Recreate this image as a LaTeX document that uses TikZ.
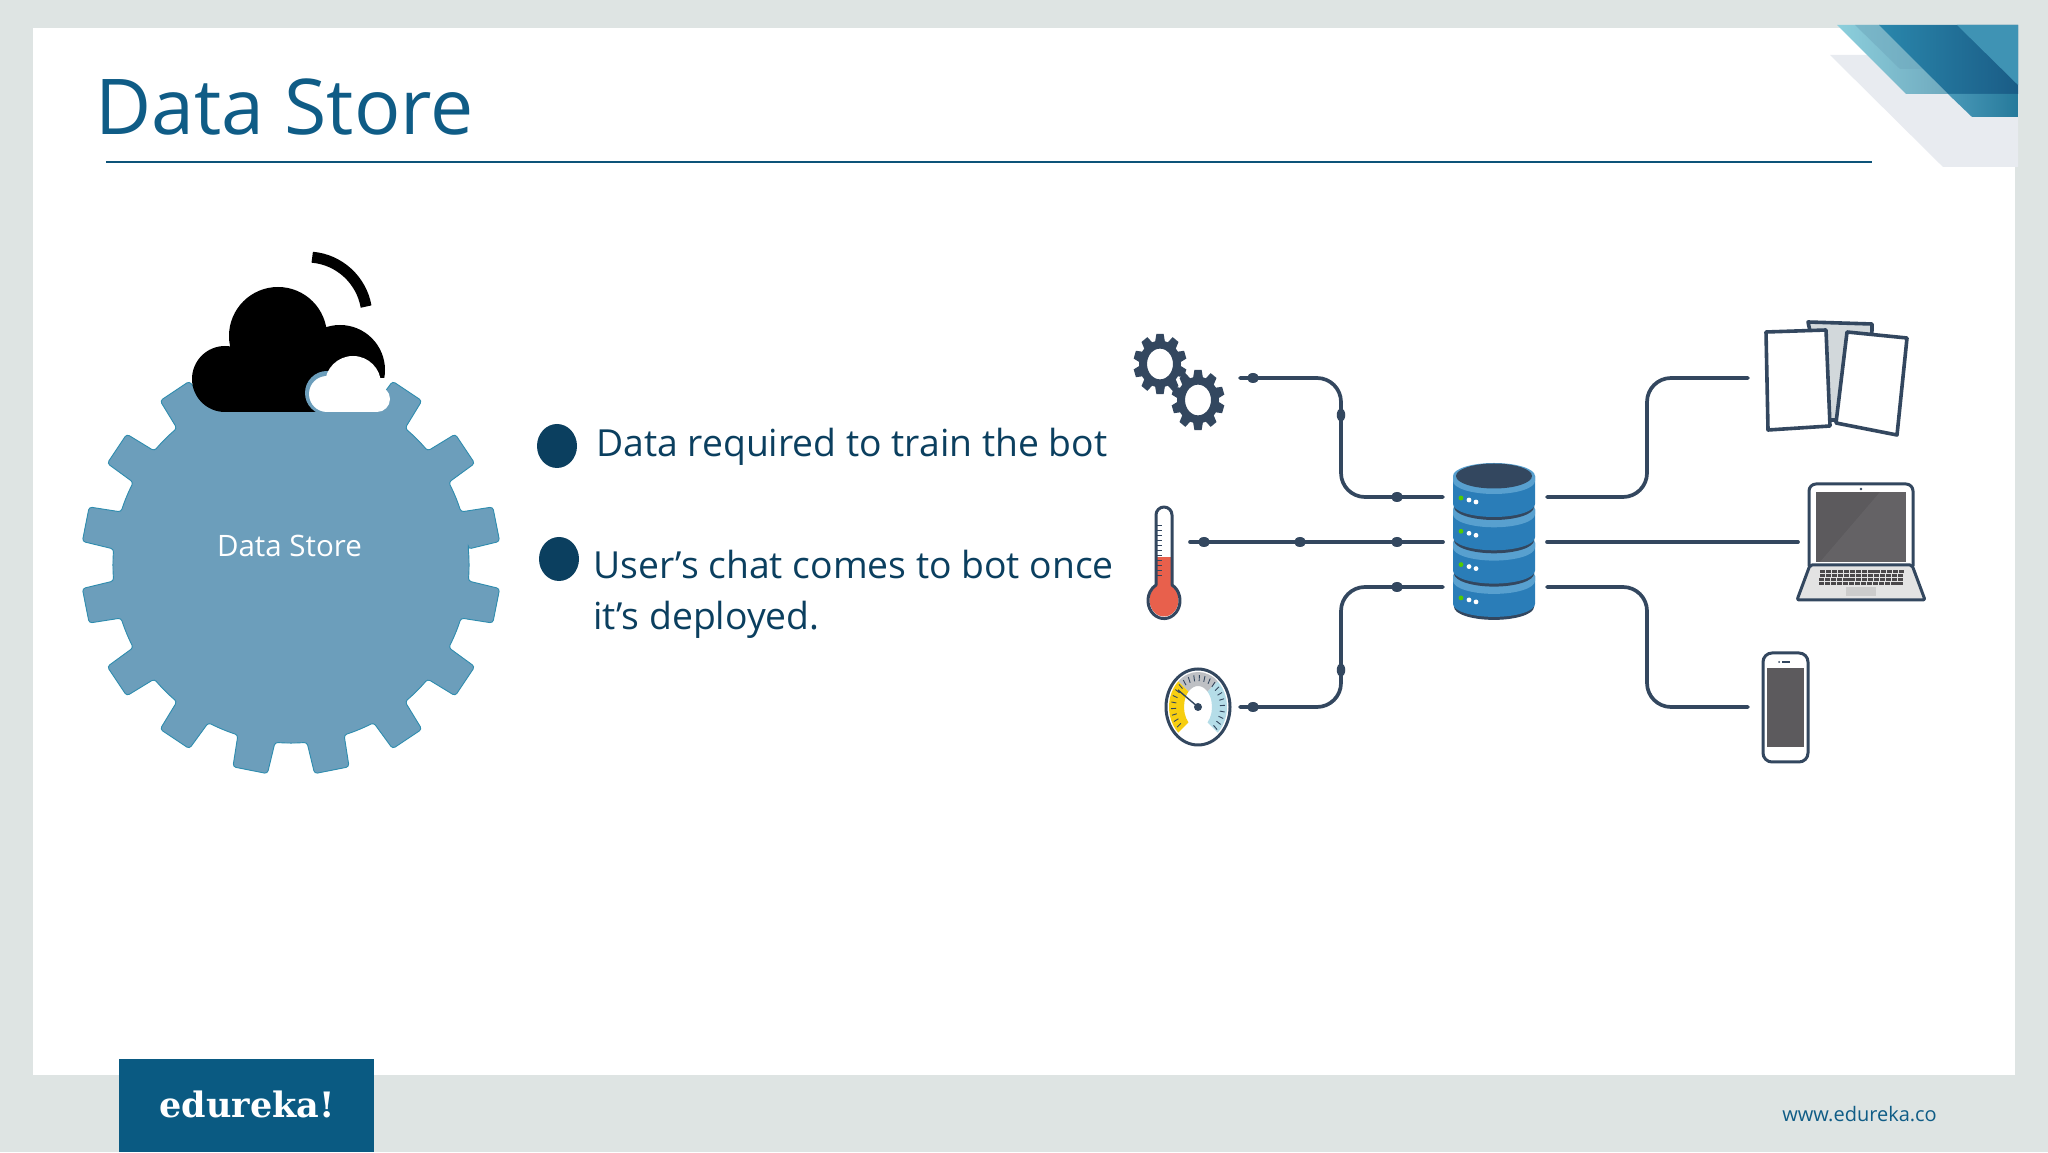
\documentclass[tikz,border=0pt]{standalone}
\usepackage{fontspec}
\setmainfont{Open Sans}
\newfontfamily\logofont{DejaVu Serif}
\usetikzlibrary{shapes.geometric,positioning,calc}
\definecolor{slidebg}{HTML}{DEE4E3}
\definecolor{titleblue}{HTML}{0F5C86}
\definecolor{inkblue}{HTML}{0B3F5F}
\definecolor{logoblue}{HTML}{0A5A82}
\definecolor{gearblue}{HTML}{6C9EBB}
\definecolor{gearedge}{HTML}{2E8CAE}
\definecolor{wirecol}{HTML}{33475F}
\definecolor{dbblue}{HTML}{2A7DB8}
\definecolor{dblight}{HTML}{58A0CF}
\definecolor{screengray}{HTML}{5C5A5D}
\definecolor{shadowgray}{HTML}{E8EBF0}
\definecolor{teallight}{HTML}{8CCFDC}
\definecolor{tealmid}{HTML}{6FA9BE}
\definecolor{tealdark}{HTML}{2A87AC}
\definecolor{navydark}{HTML}{1A5C86}
\definecolor{tabletback}{HTML}{D2D8DB}
\definecolor{thermored}{HTML}{E8604C}
\definecolor{gaugeblue}{HTML}{B5DDE8}
\definecolor{gaugegray}{HTML}{BEC0C4}
\definecolor{gaugeyellow}{HTML}{F7CE10}
\tikzset{
  wire/.style={line width=3.7pt,draw=wirecol,line cap=round,rounded corners=24pt},
  hdot/.style={ellipse,fill=wirecol,inner sep=0pt,minimum width=12pt,minimum height=10pt},
  vdot/.style={ellipse,fill=wirecol,inner sep=0pt,minimum width=8.5pt,minimum height=13pt},
  icon/.style={draw=wirecol,line width=3pt,line join=round},
  bullet/.style={ellipse,fill=inkblue,inner sep=0pt,minimum width=40pt,minimum height=44pt},
  bodytext/.style={anchor=base west,inner sep=0pt,text=inkblue,font=\fontsize{37.3}{44}\selectfont},
  smallgear/.pic={
    \draw[wirecol,line width=8pt] (0,0) circle[radius=17];
    \foreach \a in {18,54,...,342}
      \fill[wirecol,rotate=\a] (19,-5) -- (26.5,-3.6) -- (26.5,3.6) -- (19,5) -- cycle;
  },
}
\begin{document}
\begin{tikzpicture}[x=1pt,y=1pt]
  \useasboundingbox (0,0) rectangle (2048,1152);
  % slide
  \fill[slidebg] (0,0) rectangle (2048,1152);
  \fill[white] (33,77) rectangle (2015,1124);
  \fill[shadowgray] (1830,1097) -- (2018,1097) -- (2018,985) -- (1943,985) -- cycle;
  \shade[left color=teallight,right color=tealmid] (1837,1127) -- (1880,1127) -- (1948,1058) -- (1906,1058) -- cycle;
  \fill[tealmid,opacity=0.55] (1855,1127) -- (1880,1127) -- (1923,1083) -- (1900,1083) -- cycle;
  \shade[left color=tealdark,right color=navydark] (1879,1127) -- (2018,1127) -- (2018,1058) -- (1948,1058) -- cycle;
  \fill[tealdark!90!white] (1957,1127) -- (2018,1127) -- (2018,1067) -- cycle;
  \shade[left color=tealdark!85!white,right color=tealdark!90!black] (1948,1058) -- (1972,1035) -- (2018,1035) -- (2018,1058) -- cycle;
  \node[anchor=base west,inner sep=0pt,text=titleblue,font=\fontsize{77}{90}\selectfont] (title) at (95.5,1017) {Data Store};
  \draw[line width=1.8pt,draw=titleblue!90!black] (106,990) -- (1872,990);
  \fill[logoblue] (119,0) rectangle (374,93);
  \node[anchor=base,inner sep=0pt,text=white,font=\logofont\bfseries\fontsize{35}{40}\selectfont] (logo) at (247,35) {edureka!};
  \node[anchor=base east,inner sep=0pt,text=titleblue,font=\fontsize{20}{24}\selectfont] (web) at (1937,31) {www.edureka.co};

  % big gear
  \begin{scope}[shift={(291,587)}]
    \filldraw[fill=gearblue,draw=gearedge,line width=0.9pt,rounded corners=3pt] (5.15:178)
      \foreach \a/\n in {11.25/33.75,33.75/56.25,56.25/123.75,123.75/146.25,146.25/168.75,168.75/191.25,191.25/213.75,213.75/236.25,236.25/258.75,258.75/281.25,281.25/303.75,303.75/326.25,326.25/348.75,348.75/371.25}{
        -- ({\a-4.8}:210) -- ({\a+4.8}:210) -- ({\a+6.1}:178)
        arc[start angle=\a+6.1,end angle=\n-6.1,radius=178]
      } -- cycle;
  \end{scope}
  \node[text=white,anchor=base,inner sep=0pt,font=\fontsize{29.5}{34}\selectfont] (storelabel) at (289.5,595) {Data Store};

  % cloud
  \begin{scope}
    \clip (150,740) rectangle (420,900);
    \fill[black] (225,773) circle[radius=33];
    \fill[black] (278,816) circle[radius=49];
    \fill[black] (225,740) rectangle (332,800);
    \begin{scope}
      \clip (260,774) rectangle (420,860);
      \fill[black] (340,782) circle[radius=45];
    \end{scope}
    \fill[gearblue] (327,759) circle[radius=22];
    \fill[white] (327,758) circle[radius=18];
    \fill[white] (353,768) circle[radius=28];
    \fill[white] (377,753) circle[radius=13];
    \fill[white] (327,740) rectangle (377,762);
  \end{scope}
  \draw[black,line width=11pt] (307,835) ++(85:60) arc[start angle=85,end angle=10,radius=60];

  % bullets and text
  \node[bullet] (bulleta) at (557,706) {};
  \node[bullet] (bulletb) at (559,593) {};
  \node[bodytext] (linea) at (596,695) {Data required to train the bot};
  \node[bodytext] (lineb) at (593,573) {User’s chat comes to bot once};
  \node[bodytext] (linec) at (593,522) {it’s deployed.};

  % sources
  \pic[yscale=1.14] at (1160,788) {smallgear};
  \pic[yscale=1.14] at (1198,752) {smallgear};
  \begin{scope}[shift={(1164,552)}]
    \fill[white] (-8,15) -- (-8,85) arc[start angle=180,end angle=0,radius=8] -- (8,15) -- cycle;
    \fill[thermored] (0,0) circle[x radius=14.5,y radius=16.5];
    \fill[thermored] (-7,5) rectangle (7,43);
    \draw[icon] (-8,15) -- (-8,85) arc[start angle=180,end angle=0,radius=8] -- (8,15)
      arc[start angle=60,end angle=-240,x radius=16,y radius=18] -- cycle;
    \foreach \y in {25,30,...,75}
      \draw[wirecol,line width=0.8pt] (-7,\y) -- (-2,\y);
  \end{scope}
  \begin{scope}[shift={(1198,445)}]
    \filldraw[icon,fill=white] (0,0) circle[x radius=32,y radius=38];
    \fill[gaugegray] ({29*cos(133)},{35*sin(133)}) arc[start angle=133,end angle=47,x radius=29,y radius=35]
      -- ({14*cos(47)},{21*sin(47)}) arc[start angle=47,end angle=133,x radius=14,y radius=21] -- cycle;
    \fill[gaugeyellow] ({29*cos(133)},{35*sin(133)}) arc[start angle=133,end angle=227,x radius=29,y radius=35]
      -- ({14*cos(227)},{21*sin(227)}) arc[start angle=227,end angle=133,x radius=14,y radius=21] -- cycle;
    \fill[gaugeblue] ({29*cos(47)},{35*sin(47)}) arc[start angle=47,end angle=-47,x radius=29,y radius=35]
      -- ({14*cos(-47)},{21*sin(-47)}) arc[start angle=-47,end angle=47,x radius=14,y radius=21] -- cycle;
    \foreach \t in {-45,-33,...,225}
      \draw[wirecol,line width=0.9pt] ({27*cos(\t)},{32*sin(\t)}) -- ({22*cos(\t)},{26*sin(\t)});
    \draw[wirecol,line width=1.4pt] (0,0) -- (-20,17);
    \fill[wirecol] (0,0) circle[radius=4];
  \end{scope}

  % database
  \foreach \i in {3,2,1,0}{
    \begin{scope}[shift={(1494,{676-33.3*\i})}]
      \fill[wirecol] (-40,-3) -- (-40,-31) arc[start angle=180,end angle=360,x radius=40,y radius=13] -- (40,-3) -- cycle;
      \fill[dbblue] (-41,0) -- (-41,-28) arc[start angle=180,end angle=360,x radius=41,y radius=13] -- (41,0) -- cycle;
      \fill[dblight] (-41,0) -- (-41,-5) arc[start angle=180,end angle=360,x radius=41,y radius=13] -- (41,0)
        arc[start angle=0,end angle=180,x radius=41,y radius=13] -- cycle;
      \fill[green!60!yellow!80!black] (-33,-22) circle[radius=2.4];
      \fill[white] (-25,-24) circle[radius=2.4];
      \fill[white] (-18,-26) circle[radius=2.4];
    \end{scope}
  }
  \fill[wirecol] (1494,676) circle[x radius=38,y radius=12.5];

  % devices
  \filldraw[icon,line width=3.6pt,fill=tabletback] (1808,1152-322) -- (1872,1152-324) -- (1871,1152-420) -- (1829,1152-420) -- cycle;
  \filldraw[icon,line width=3.6pt,fill=white] (1847,1152-332) -- (1907,1152-338) -- (1897,1152-435) -- (1836,1152-423) -- cycle;
  \filldraw[icon,line width=3.6pt,fill=white] (1766,1152-332) -- (1826,1152-330) -- (1830,1152-426) -- (1768,1152-430) -- cycle;

  \draw[icon,rounded corners=7pt,fill=white] (1809,1152-566) |- (1913,1152-484) -- (1913,1152-566);
  \fill[screengray] (1816,1152-492) rectangle (1906,1152-562);
  \fill[white,opacity=0.05] (1906,1152-492) -- (1880,1152-492) -- (1820,1152-562) -- (1906,1152-562) -- cycle;
  \fill[wirecol] (1861,1152-489) circle[radius=1.3];
  \filldraw[icon,rounded corners=2pt,fill=gray!22] (1810,1152-565) -- (1912,1152-565) -- (1925,1152-600) -- (1797,1152-600) -- cycle;
  \foreach \r in {0,1,2,3}
    \foreach \k in {0,...,13}
      \fill[screengray!80!black] ({1820+\k*6.05+\r*(-0.4)},{1152-570-\r*4}) rectangle ++(5.1,-3);
  \fill[gray!40] (1846,1152-587) rectangle (1876,1152-596);

  \draw[icon,rounded corners=9pt,fill=white] (1763,1152-653) rectangle (1808,1152-762);
  \fill[screengray] (1767,1152-668) rectangle (1804,1152-747);
  \fill[wirecol] (1779,1152-662) circle[radius=1];
  \fill[wirecol] (1782,1152-662.7) rectangle (1790,1152-661.3);

  % named ends of the wires
  \coordinate (gearsport) at (1240,774);
  \coordinate (thermoport) at (1190,610);
  \coordinate (gaugeport) at (1240,445);
  \coordinate (dbina) at (1443,655);
  \coordinate (dbinb) at (1443,610);
  \coordinate (dbinc) at (1443,565);
  \coordinate (dbouta) at (1547,655);
  \coordinate (dboutb) at (1547,610);
  \coordinate (dboutc) at (1547,565);
  \coordinate (tabletport) at (1748,774);
  \coordinate (laptopport) at (1798,610);
  \coordinate (phoneport) at (1748,445);

  \draw[wire] (gearsport) -- ++(101,0) |- (dbina);
  \draw[wire] (thermoport) -- (dbinb);
  \draw[wire] (gaugeport) -- ++(101,0) |- (dbinc);
  \draw[wire] (dbouta) -- ++(100,0) |- (tabletport);
  \draw[wire] (dboutb) -- (laptopport);
  \draw[wire] (dboutc) -- ++(100,0) |- (phoneport);

  \node[hdot] (dotga) at (1253,774) {};
  \node[vdot] (dotgb) at (1341,737) {};
  \node[hdot] (dotgc) at (1397,655) {};
  \node[hdot] (dotta) at (1204,610) {};
  \node[hdot] (dottb) at (1300,610) {};
  \node[hdot] (dottc) at (1397,610) {};
  \node[hdot] (dotpa) at (1253,445) {};
  \node[vdot] (dotpb) at (1341,482) {};
  \node[hdot] (dotpc) at (1397,565) {};
\end{tikzpicture}
\end{document}
